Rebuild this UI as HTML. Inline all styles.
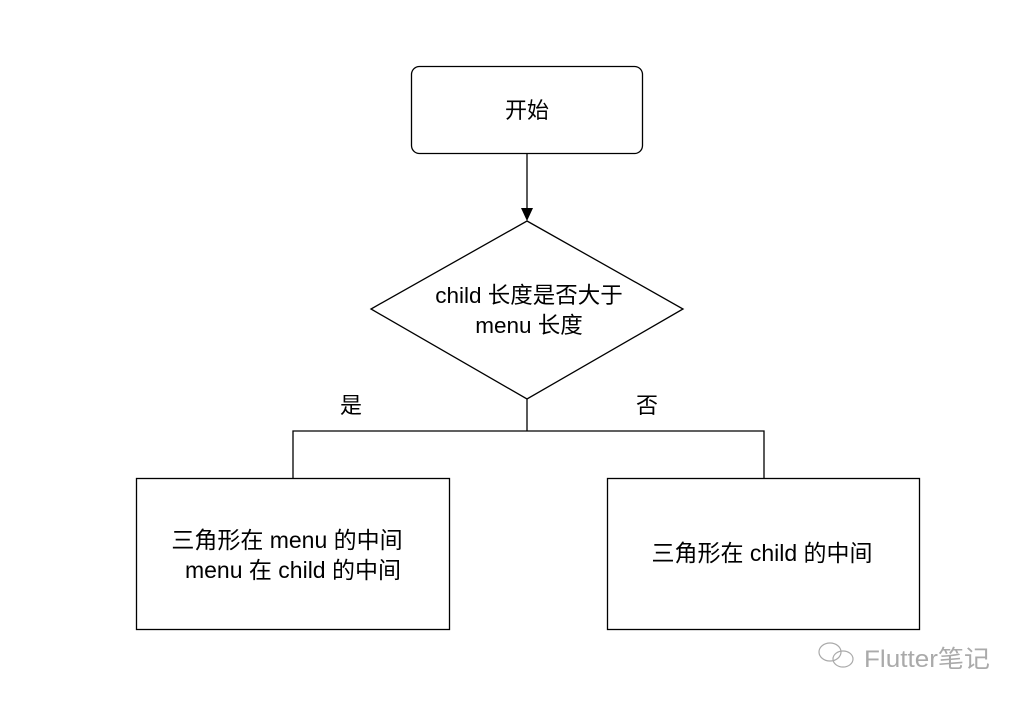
<!DOCTYPE html>
<html><head><meta charset="utf-8"><style>
body{margin:0;background:#fff;}
svg text{font-family:"Liberation Sans","Noto Sans CJK SC",sans-serif;fill:#000;}
</style></head><body>
<svg width="1024" height="702" viewBox="0 0 1024 702" xmlns="http://www.w3.org/2000/svg">
<rect x="411.5" y="66.5" width="231" height="87" rx="8" fill="#fff" stroke="#000" stroke-width="1.3"/>
<text x="527" y="118" font-size="22" text-anchor="middle">开始</text>
<line x1="527" y1="154" x2="527" y2="210" stroke="#000" stroke-width="1.3"/>
<polygon points="521,208 533,208 527,221" fill="#000"/>
<polygon points="527,221 683,309 527,399 371,309" fill="#fff" stroke="#000" stroke-width="1.3"/>
<text x="529" y="303" font-size="22.5" text-anchor="middle">child 长度是否大于</text>
<text x="529" y="333" font-size="22.5" text-anchor="middle">menu 长度</text>
<path d="M527 399V431M293 478V431H764V478" fill="none" stroke="#000" stroke-width="1.3"/>
<text x="351" y="413" font-size="22" text-anchor="middle">是</text>
<text x="647" y="413" font-size="22" text-anchor="middle">否</text>
<rect x="136.5" y="478.5" width="313" height="151" fill="#fff" stroke="#000" stroke-width="1.3"/>
<text x="287" y="548" font-size="23" text-anchor="middle">三角形在 menu 的中间</text>
<text x="293" y="578" font-size="23" text-anchor="middle">menu 在 child 的中间</text>
<rect x="607.5" y="478.5" width="312" height="151" fill="#fff" stroke="#000" stroke-width="1.3"/>
<text x="762" y="561" font-size="23" text-anchor="middle">三角形在 child 的中间</text>
<g stroke="#aaa" fill="none" stroke-width="1.2">
<ellipse cx="830" cy="652" rx="11" ry="9"/>
<ellipse cx="843" cy="659" rx="10" ry="8"/>
</g>
<text x="864" y="667" font-size="24" textLength="126" lengthAdjust="spacingAndGlyphs" style="fill:#aaa">Flutter笔记</text>
</svg>
</body></html>
